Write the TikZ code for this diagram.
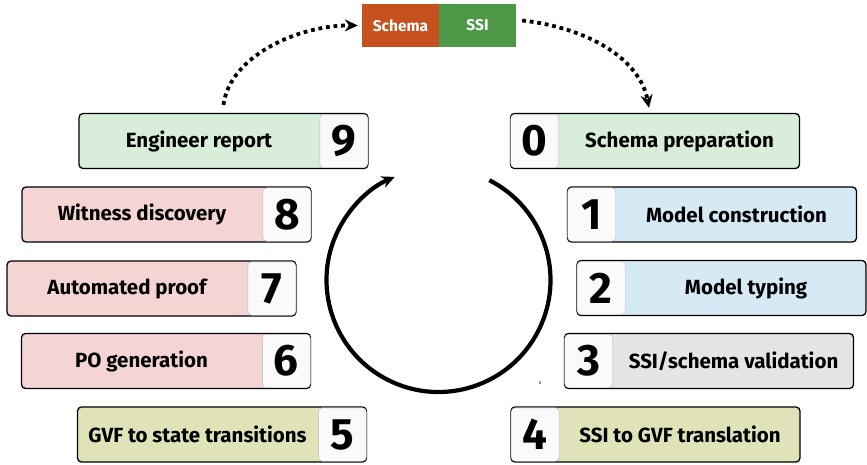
\documentclass[tikz,border=0pt]{standalone}
\usepackage{fontspec}
\setmainfont{Fira Sans}
\usepackage{tikz}
\usetikzlibrary{arrows.meta,calc}

\definecolor{prepgreen}{RGB}{216,238,219}
\definecolor{proofred}{RGB}{245,212,212}
\definecolor{modelblue}{RGB}{214,234,245}
\definecolor{checkgray}{RGB}{229,229,229}
\definecolor{gvfolive}{RGB}{224,226,184}
\definecolor{numwhite}{RGB}{250,250,250}
\definecolor{schemaorange}{RGB}{197,82,30}
\definecolor{ssigreen}{RGB}{77,153,71}

\tikzset{
  stagebox/.style={draw=black, line width=1.3pt, rounded corners=4pt, minimum width=289pt, minimum height=55pt, inner sep=0pt},
  numbox/.style={fill=numwhite, draw=gray!55, line width=0.4pt, rounded corners=4pt, minimum width=48pt, minimum height=53.4pt, inner sep=0pt, font=\fontsize{44}{44}\selectfont\bfseries},
  stagetext/.style={font=\fontsize{20.5}{24}\selectfont\bfseries},
  tag/.style={minimum width=77pt, minimum height=43pt, inner sep=0pt, text=white, font=\fontsize{15.5}{18}\selectfont\bfseries},
  handover/.style={line width=3.8pt, dash pattern=on 3.8pt off 3.8pt, -{Stealth[length=13pt,width=12pt]}},
}

\begin{document}
\begin{tikzpicture}[x=1pt,y=-1pt]
  \useasboundingbox (0,0) rectangle (867,464);

  % input pair
  \node[tag, fill=schemaorange] (schema) at (400.5,25.5) {Schema};
  \node[tag, fill=ssigreen] (ssi) at (477.5,25.5) {SSI};

  % stages on the right, number first
  \foreach \n/\x/\y/\col/\txt in {0/655/141/prepgreen/{Schema preparation},
                                  1/712/214.5/modelblue/{Model construction},
                                  2/721.5/288/modelblue/{Model typing},
                                  3/709/361/checkgray/{SSI/schema validation},
                                  4/655.5/434.5/gvfolive/{SSI to GVF translation}}{
    \node[stagebox, fill=\col] (b\n) at (\x,\y) {};
    \node[numbox, anchor=west] (n\n) at ([xshift=0.65pt]b\n.west) {\n};
    \node[stagetext] (t\n) at ($(n\n.east)!.5!(b\n.east)$) {\txt};
  }

  % stages on the left, number last
  \foreach \n/\x/\y/\col/\txt in {5/222/434.5/gvfolive/{GVF to state transitions},
                                  6/166/361/proofred/{PO generation},
                                  7/151.5/288.5/proofred/{Automated proof},
                                  8/166.5/214.5/proofred/{Witness discovery},
                                  9/223.5/141/prepgreen/{Engineer report}}{
    \node[stagebox, fill=\col] (b\n) at (\x,\y) {};
    \node[numbox, anchor=east] (n\n) at ([xshift=-0.65pt]b\n.east) {\n};
    \node[stagetext] (t\n) at ($(b\n.west)!.5!(n\n.west)$) {\txt};
  }

  % cycle
  \coordinate (cyc) at (438.5,280);
  \draw[line width=4.2pt, -{Stealth[length=13pt,width=12pt]}] (cyc) ++(-63:112) arc[start angle=-63, end angle=247, radius=112];
  \node[font=\fontsize{5}{5}\selectfont] (mark) at (540,383) {s};

  % hand-over arrows
  \draw[handover] ([yshift=8pt]b9.north) .. controls (230,55) and (300,25) .. ([xshift=-4pt]schema.west);
  \draw[handover] ([xshift=6pt,yshift=5pt]ssi.east) .. controls (590,28) and (640,60) .. ([xshift=-6pt,yshift=5pt]b0.north);
\end{tikzpicture}
\end{document}
